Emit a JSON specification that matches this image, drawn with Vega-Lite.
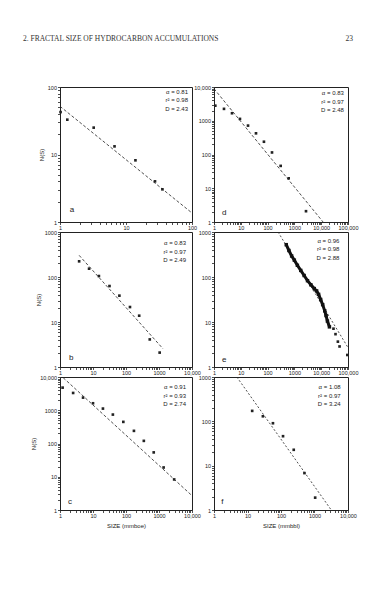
{
  "$schema": "https://vega.github.io/schema/vega-lite/v6.json",
  "background": "white",
  "padding": {"left": 22, "top": 34, "right": 5, "bottom": 5},
  "columns": 2,
  "spacing": {"row": 10, "column": 22},
  "bounds": "flush",
  "datasets": {
    "pts": [
      {"panel": "a", "x": 1.02, "y": 42.5}, {"panel": "a", "x": 1.29, "y": 32.8}, {"panel": "a", "x": 3.24, "y": 25},
      {"panel": "a", "x": 6.7, "y": 13.2}, {"panel": "a", "x": 13.9, "y": 8.2}, {"panel": "a", "x": 27.5, "y": 4.0},
      {"panel": "a", "x": 35.6, "y": 3.05},
      {"panel": "b", "x": 3.8, "y": 223}, {"panel": "b", "x": 7.6, "y": 153}, {"panel": "b", "x": 15.1, "y": 105},
      {"panel": "b", "x": 31.6, "y": 63}, {"panel": "b", "x": 63, "y": 38.5}, {"panel": "b", "x": 132, "y": 21.5},
      {"panel": "b", "x": 251, "y": 13.8}, {"panel": "b", "x": 525, "y": 4.1}, {"panel": "b", "x": 1047, "y": 2.09},
      {"panel": "c", "x": 1.2, "y": 4786}, {"panel": "c", "x": 2.5, "y": 3311}, {"panel": "c", "x": 5, "y": 2400},
      {"panel": "c", "x": 10, "y": 1622}, {"panel": "c", "x": 20, "y": 1122}, {"panel": "c", "x": 40, "y": 741},
      {"panel": "c", "x": 83, "y": 447}, {"panel": "c", "x": 174, "y": 240}, {"panel": "c", "x": 347, "y": 120},
      {"panel": "c", "x": 692, "y": 54}, {"panel": "c", "x": 1380, "y": 19}, {"panel": "c", "x": 2884, "y": 8.3},
      {"panel": "d", "x": 1.12, "y": 2800}, {"panel": "d", "x": 2.36, "y": 2250}, {"panel": "d", "x": 4.7, "y": 1670},
      {"panel": "d", "x": 9.3, "y": 1135}, {"panel": "d", "x": 18.6, "y": 718}, {"panel": "d", "x": 36.9, "y": 424},
      {"panel": "d", "x": 73, "y": 239}, {"panel": "d", "x": 146, "y": 115}, {"panel": "d", "x": 307, "y": 46},
      {"panel": "d", "x": 611, "y": 19.7}, {"panel": "d", "x": 2710, "y": 2.09},
      {"panel": "e", "x": 28700, "y": 7.1}, {"panel": "e", "x": 34200, "y": 5.37}, {"panel": "e", "x": 41900, "y": 3.66},
      {"panel": "e", "x": 48400, "y": 2.86}, {"panel": "e", "x": 94400, "y": 1.85},
      {"panel": "f", "x": 13.8, "y": 172}, {"panel": "f", "x": 28.8, "y": 130}, {"panel": "f", "x": 57.5, "y": 90.6},
      {"panel": "f", "x": 115, "y": 46.2}, {"panel": "f", "x": 240, "y": 22.8}, {"panel": "f", "x": 501, "y": 6.8},
      {"panel": "f", "x": 1047, "y": 1.9}
    ],
    "curve": [
      {"x": 496, "y": 523}, {"x": 625, "y": 388}, {"x": 789, "y": 293}, {"x": 994, "y": 237},
      {"x": 1291, "y": 182}, {"x": 1726, "y": 140}, {"x": 2306, "y": 108}, {"x": 3081, "y": 82.8},
      {"x": 4117, "y": 67.1}, {"x": 5500, "y": 55.3}, {"x": 6745, "y": 49}, {"x": 8020, "y": 41.1},
      {"x": 9550, "y": 31.6}, {"x": 11350, "y": 24.3}, {"x": 13520, "y": 17.7}, {"x": 15180, "y": 13.9},
      {"x": 17060, "y": 10.5}, {"x": 20280, "y": 7.8}
    ],
    "fits": [
      {"panel": "a", "x": 1, "y": 51.7}, {"panel": "a", "x": 100, "y": 1.36},
      {"panel": "b", "x": 3.8, "y": 303}, {"panel": "b", "x": 1318, "y": 2.55},
      {"panel": "c", "x": 1.25, "y": 9500}, {"panel": "c", "x": 10000, "y": 2.7},
      {"panel": "d", "x": 1, "y": 8900}, {"panel": "d", "x": 11750, "y": 1},
      {"panel": "e", "x": 246, "y": 1000}, {"panel": "e", "x": 100000, "y": 2.7},
      {"panel": "f", "x": 4.8, "y": 1000}, {"panel": "f", "x": 3162, "y": 1}
    ]
  },
  "concat": [
    {
      "width": 132, "height": 135,
      "title": {"text": "2. FRACTAL SIZE OF HYDROCARBON ACCUMULATIONS", "anchor": "start", "frame": "group", "dx": -37, "offset": 43, "font": "Liberation Serif", "fontSize": 7.5, "fontWeight": "normal", "color": "#333"},
      "layer": [
        {"data": {"name": "fits"}, "transform": [{"filter": "datum.panel == 'a'"}],
         "mark": {"type": "line", "strokeDash": [3, 2], "strokeWidth": 0.8, "color": "#222"},
         "encoding": {
           "x": {"field": "x", "type": "quantitative", "scale": {"type": "log", "domain": [1, 100]}, "axis": {"values": [1,2,3,4,5,6,7,8,9,10,20,30,40,50,60,70,80,90,100], "title": null, "labelExpr": "(abs(log(datum.value)/LN10 - round(log(datum.value)/LN10)) < 0.001) ? (datum.value >= 10000 ? format(datum.value, ',') : format(datum.value, 'd')) : ''"}},
           "y": {"field": "y", "type": "quantitative", "scale": {"type": "log", "domain": [1, 100]}, "axis": {"values": [1,2,3,4,5,6,7,8,9,10,20,30,40,50,60,70,80,90,100], "title": "N(S)", "labelExpr": "(abs(log(datum.value)/LN10 - round(log(datum.value)/LN10)) < 0.001) ? (datum.value >= 10000 ? format(datum.value, ',') : format(datum.value, 'd')) : ''"}}
         }},
        {"data": {"name": "pts"}, "transform": [{"filter": "datum.panel == 'a'"}],
         "mark": {"type": "square", "size": 7, "color": "#222", "opacity": 1},
         "encoding": {"x": {"field": "x", "type": "quantitative"}, "y": {"field": "y", "type": "quantitative"}}},
        {"data": {"values": [{}]}, "mark": {"type": "text", "fontSize": 8, "align": "left", "baseline": "middle", "font": "Liberation Sans", "color": "#222"},
         "encoding": {"x": {"datum": 1.4, "type": "quantitative"}, "y": {"datum": 1.5, "type": "quantitative"}, "text": {"value": "a"}}},
        {"data": {"values": [{}]}, "mark": {"type": "text", "fontSize": 6, "align": "right", "baseline": "top", "lineHeight": 8.5, "font": "Liberation Sans", "color": "#222"},
         "encoding": {"x": {"datum": 87, "type": "quantitative"}, "y": {"datum": 95, "type": "quantitative"}, "text": {"value": ["α = 0.81", "r² = 0.98", "D = 2.43"]}}}
      ]
    },
    {
      "width": 134, "height": 135,
      "title": {"text": "23", "anchor": "end", "frame": "group", "dx": 5, "offset": 43, "font": "Liberation Serif", "fontSize": 7.5, "fontWeight": "normal", "color": "#333"},
      "layer": [
        {"data": {"name": "fits"}, "transform": [{"filter": "datum.panel == 'd'"}],
         "mark": {"type": "line", "strokeDash": [3, 2], "strokeWidth": 0.8, "color": "#222"},
         "encoding": {
           "x": {"field": "x", "type": "quantitative", "scale": {"type": "log", "domain": [1, 100000]}, "axis": {"values": [1,2,3,4,5,6,7,8,9,10,20,30,40,50,60,70,80,90,100,200,300,400,500,600,700,800,900,1000,2000,3000,4000,5000,6000,7000,8000,9000,10000,20000,30000,40000,50000,60000,70000,80000,90000,100000], "title": null, "labelExpr": "(abs(log(datum.value)/LN10 - round(log(datum.value)/LN10)) < 0.001) ? (datum.value >= 10000 ? format(datum.value, ',') : format(datum.value, 'd')) : ''"}},
           "y": {"field": "y", "type": "quantitative", "scale": {"type": "log", "domain": [1, 10000]}, "axis": {"values": [1,2,3,4,5,6,7,8,9,10,20,30,40,50,60,70,80,90,100,200,300,400,500,600,700,800,900,1000,2000,3000,4000,5000,6000,7000,8000,9000,10000], "title": null, "labelExpr": "(abs(log(datum.value)/LN10 - round(log(datum.value)/LN10)) < 0.001) ? (datum.value >= 10000 ? format(datum.value, ',') : format(datum.value, 'd')) : ''"}}
         }},
        {"data": {"name": "pts"}, "transform": [{"filter": "datum.panel == 'd'"}],
         "mark": {"type": "square", "size": 7, "color": "#222", "opacity": 1},
         "encoding": {"x": {"field": "x", "type": "quantitative"}, "y": {"field": "y", "type": "quantitative"}}},
        {"data": {"values": [{}]}, "mark": {"type": "text", "fontSize": 8, "align": "left", "baseline": "middle", "font": "Liberation Sans", "color": "#222"},
         "encoding": {"x": {"datum": 2, "type": "quantitative"}, "y": {"datum": 1.86, "type": "quantitative"}, "text": {"value": "d"}}},
        {"data": {"values": [{}]}, "mark": {"type": "text", "fontSize": 6, "align": "right", "baseline": "top", "lineHeight": 8.5, "font": "Liberation Sans", "color": "#222"},
         "encoding": {"x": {"datum": 70000, "type": "quantitative"}, "y": {"datum": 8000, "type": "quantitative"}, "text": {"value": ["α = 0.83", "r² = 0.97", "D = 2.48"]}}}
      ]
    },
    {
      "width": 132, "height": 135,
      "layer": [
        {"data": {"name": "fits"}, "transform": [{"filter": "datum.panel == 'b'"}],
         "mark": {"type": "line", "strokeDash": [3, 2], "strokeWidth": 0.8, "color": "#222"},
         "encoding": {
           "x": {"field": "x", "type": "quantitative", "scale": {"type": "log", "domain": [1, 10000]}, "axis": {"values": [1,2,3,4,5,6,7,8,9,10,20,30,40,50,60,70,80,90,100,200,300,400,500,600,700,800,900,1000,2000,3000,4000,5000,6000,7000,8000,9000,10000], "title": null, "labelExpr": "(abs(log(datum.value)/LN10 - round(log(datum.value)/LN10)) < 0.001) ? (datum.value >= 10000 ? format(datum.value, ',') : format(datum.value, 'd')) : ''"}},
           "y": {"field": "y", "type": "quantitative", "scale": {"type": "log", "domain": [1, 1000]}, "axis": {"values": [1,2,3,4,5,6,7,8,9,10,20,30,40,50,60,70,80,90,100,200,300,400,500,600,700,800,900,1000], "title": "N(S)", "labelExpr": "(abs(log(datum.value)/LN10 - round(log(datum.value)/LN10)) < 0.001) ? (datum.value >= 10000 ? format(datum.value, ',') : format(datum.value, 'd')) : ''"}}
         }},
        {"data": {"name": "pts"}, "transform": [{"filter": "datum.panel == 'b'"}],
         "mark": {"type": "square", "size": 7, "color": "#222", "opacity": 1},
         "encoding": {"x": {"field": "x", "type": "quantitative"}, "y": {"field": "y", "type": "quantitative"}}},
        {"data": {"values": [{}]}, "mark": {"type": "text", "fontSize": 8, "align": "left", "baseline": "middle", "font": "Liberation Sans", "color": "#222"},
         "encoding": {"x": {"datum": 1.86, "type": "quantitative"}, "y": {"datum": 1.55, "type": "quantitative"}, "text": {"value": "b"}}},
        {"data": {"values": [{}]}, "mark": {"type": "text", "fontSize": 6, "align": "right", "baseline": "top", "lineHeight": 8.5, "font": "Liberation Sans", "color": "#222"},
         "encoding": {"x": {"datum": 6600, "type": "quantitative"}, "y": {"datum": 650, "type": "quantitative"}, "text": {"value": ["α = 0.83", "r² = 0.97", "D = 2.49"]}}}
      ]
    },
    {
      "width": 134, "height": 135,
      "layer": [
        {"data": {"name": "fits"}, "transform": [{"filter": "datum.panel == 'e'"}],
         "mark": {"type": "line", "strokeDash": [2, 2], "strokeWidth": 0.8, "color": "#222"},
         "encoding": {
           "x": {"field": "x", "type": "quantitative", "scale": {"type": "log", "domain": [1, 100000]}, "axis": {"values": [1,2,3,4,5,6,7,8,9,10,20,30,40,50,60,70,80,90,100,200,300,400,500,600,700,800,900,1000,2000,3000,4000,5000,6000,7000,8000,9000,10000,20000,30000,40000,50000,60000,70000,80000,90000,100000], "title": null, "labelExpr": "(abs(log(datum.value)/LN10 - round(log(datum.value)/LN10)) < 0.001) ? (datum.value >= 10000 ? format(datum.value, ',') : format(datum.value, 'd')) : ''"}},
           "y": {"field": "y", "type": "quantitative", "scale": {"type": "log", "domain": [1, 1000]}, "axis": {"values": [1,2,3,4,5,6,7,8,9,10,20,30,40,50,60,70,80,90,100,200,300,400,500,600,700,800,900,1000], "title": null, "labelExpr": "(abs(log(datum.value)/LN10 - round(log(datum.value)/LN10)) < 0.001) ? (datum.value >= 10000 ? format(datum.value, ',') : format(datum.value, 'd')) : ''"}}
         }},
        {"data": {"name": "curve"},
         "mark": {"type": "line", "strokeWidth": 3, "color": "#111"},
         "encoding": {"x": {"field": "x", "type": "quantitative"}, "y": {"field": "y", "type": "quantitative"}}},
        {"data": {"name": "curve"},
         "mark": {"type": "square", "size": 12, "color": "#111", "opacity": 1},
         "encoding": {"x": {"field": "x", "type": "quantitative"}, "y": {"field": "y", "type": "quantitative"}}},
        {"data": {"name": "pts"}, "transform": [{"filter": "datum.panel == 'e'"}],
         "mark": {"type": "square", "size": 7, "color": "#222", "opacity": 1},
         "encoding": {"x": {"field": "x", "type": "quantitative"}, "y": {"field": "y", "type": "quantitative"}}},
        {"data": {"values": [{}]}, "mark": {"type": "text", "fontSize": 8, "align": "left", "baseline": "middle", "font": "Liberation Sans", "color": "#222"},
         "encoding": {"x": {"datum": 2, "type": "quantitative"}, "y": {"datum": 1.4, "type": "quantitative"}, "text": {"value": "e"}}},
        {"data": {"values": [{}]}, "mark": {"type": "text", "fontSize": 6, "align": "right", "baseline": "top", "lineHeight": 8.5, "font": "Liberation Sans", "color": "#222"},
         "encoding": {"x": {"datum": 48000, "type": "quantitative"}, "y": {"datum": 740, "type": "quantitative"}, "text": {"value": ["α = 0.96", "r² = 0.98", "D = 2.88"]}}}
      ]
    },
    {
      "width": 132, "height": 133,
      "layer": [
        {"data": {"name": "fits"}, "transform": [{"filter": "datum.panel == 'c'"}],
         "mark": {"type": "line", "strokeDash": [3, 2], "strokeWidth": 0.8, "color": "#222"},
         "encoding": {
           "x": {"field": "x", "type": "quantitative", "scale": {"type": "log", "domain": [1, 10000]}, "axis": {"values": [1,2,3,4,5,6,7,8,9,10,20,30,40,50,60,70,80,90,100,200,300,400,500,600,700,800,900,1000,2000,3000,4000,5000,6000,7000,8000,9000,10000], "title": "SIZE (mmboe)", "labelExpr": "(abs(log(datum.value)/LN10 - round(log(datum.value)/LN10)) < 0.001) ? (datum.value >= 10000 ? format(datum.value, ',') : format(datum.value, 'd')) : ''"}},
           "y": {"field": "y", "type": "quantitative", "scale": {"type": "log", "domain": [1, 10000]}, "axis": {"values": [1,2,3,4,5,6,7,8,9,10,20,30,40,50,60,70,80,90,100,200,300,400,500,600,700,800,900,1000,2000,3000,4000,5000,6000,7000,8000,9000,10000], "title": "N(S)", "labelExpr": "(abs(log(datum.value)/LN10 - round(log(datum.value)/LN10)) < 0.001) ? (datum.value >= 10000 ? format(datum.value, ',') : format(datum.value, 'd')) : ''"}}
         }},
        {"data": {"name": "pts"}, "transform": [{"filter": "datum.panel == 'c'"}],
         "mark": {"type": "square", "size": 7, "color": "#222", "opacity": 1},
         "encoding": {"x": {"field": "x", "type": "quantitative"}, "y": {"field": "y", "type": "quantitative"}}},
        {"data": {"values": [{}]}, "mark": {"type": "text", "fontSize": 8, "align": "left", "baseline": "middle", "font": "Liberation Sans", "color": "#222"},
         "encoding": {"x": {"datum": 1.74, "type": "quantitative"}, "y": {"datum": 1.7, "type": "quantitative"}, "text": {"value": "c"}}},
        {"data": {"values": [{}]}, "mark": {"type": "text", "fontSize": 6, "align": "right", "baseline": "top", "lineHeight": 8.5, "font": "Liberation Sans", "color": "#222"},
         "encoding": {"x": {"datum": 6600, "type": "quantitative"}, "y": {"datum": 6000, "type": "quantitative"}, "text": {"value": ["α = 0.91", "r² = 0.93", "D = 2.74"]}}}
      ]
    },
    {
      "width": 134, "height": 133,
      "layer": [
        {"data": {"name": "fits"}, "transform": [{"filter": "datum.panel == 'f'"}],
         "mark": {"type": "line", "strokeDash": [2, 2], "strokeWidth": 0.8, "color": "#222"},
         "encoding": {
           "x": {"field": "x", "type": "quantitative", "scale": {"type": "log", "domain": [1, 10000]}, "axis": {"values": [1,2,3,4,5,6,7,8,9,10,20,30,40,50,60,70,80,90,100,200,300,400,500,600,700,800,900,1000,2000,3000,4000,5000,6000,7000,8000,9000,10000], "title": "SIZE (mmbbl)", "labelExpr": "(abs(log(datum.value)/LN10 - round(log(datum.value)/LN10)) < 0.001) ? (datum.value >= 10000 ? format(datum.value, ',') : format(datum.value, 'd')) : ''"}},
           "y": {"field": "y", "type": "quantitative", "scale": {"type": "log", "domain": [1, 1000]}, "axis": {"values": [1,2,3,4,5,6,7,8,9,10,20,30,40,50,60,70,80,90,100,200,300,400,500,600,700,800,900,1000], "title": null, "labelExpr": "(abs(log(datum.value)/LN10 - round(log(datum.value)/LN10)) < 0.001) ? (datum.value >= 10000 ? format(datum.value, ',') : format(datum.value, 'd')) : ''"}}
         }},
        {"data": {"name": "pts"}, "transform": [{"filter": "datum.panel == 'f'"}],
         "mark": {"type": "square", "size": 7, "color": "#222", "opacity": 1},
         "encoding": {"x": {"field": "x", "type": "quantitative"}, "y": {"field": "y", "type": "quantitative"}}},
        {"data": {"values": [{}]}, "mark": {"type": "text", "fontSize": 8, "align": "left", "baseline": "middle", "font": "Liberation Sans", "color": "#222"},
         "encoding": {"x": {"datum": 1.66, "type": "quantitative"}, "y": {"datum": 1.55, "type": "quantitative"}, "text": {"value": "f"}}},
        {"data": {"values": [{}]}, "mark": {"type": "text", "fontSize": 6, "align": "right", "baseline": "top", "lineHeight": 8.5, "font": "Liberation Sans", "color": "#222"},
         "encoding": {"x": {"datum": 6000, "type": "quantitative"}, "y": {"datum": 680, "type": "quantitative"}, "text": {"value": ["α = 1.08", "r² = 0.97", "D = 3.24"]}}}
      ]
    }
  ],
  "config": {
    "view": {"stroke": "#222", "strokeWidth": 1},
    "axis": {
      "grid": false,
      "labelFont": "Liberation Sans", "labelFontSize": 5.5, "labelColor": "#222", "labelPadding": 1,
      "titleFont": "Liberation Sans", "titleFontSize": 6, "titleFontWeight": "normal", "titleColor": "#222", "titlePadding": 3,
      "tickColor": "#222", "tickSize": 2.5, "tickWidth": 0.8, "domainColor": "#222", "domainWidth": 1, "labelOverlap": false, "labelFlush": false
    }
  }
}
